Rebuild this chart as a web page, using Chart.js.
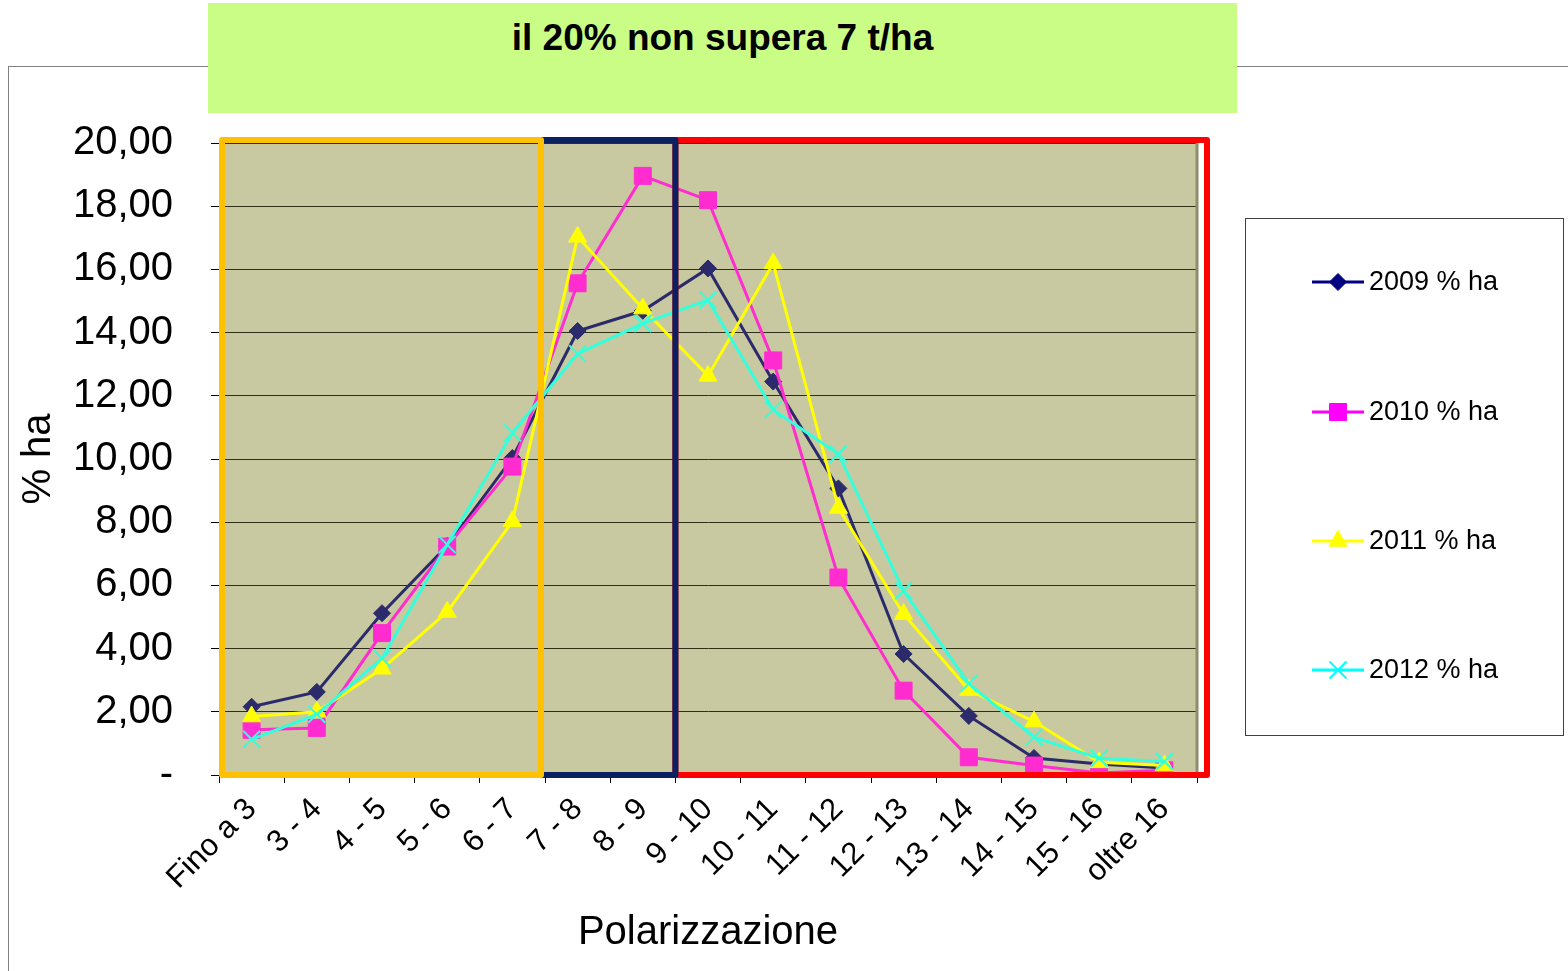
<!DOCTYPE html>
<html><head><meta charset="utf-8">
<script src="https://cdn.jsdelivr.net/npm/chart.js@4.4.0/dist/chart.umd.min.js"></script>
<style>
html,body{margin:0;padding:0;background:#fff;width:1568px;height:971px;overflow:hidden;}
#frame{position:absolute;left:8px;top:66px;width:1600px;height:1000px;border-top:1px solid #808080;border-left:1px solid #808080;}
#wrap{position:absolute;left:0;top:0;width:1568px;height:971px;}
#title{position:absolute;left:208px;top:3px;width:1029px;height:110px;background:#CAFD86;font:bold 37px "Liberation Sans",Arial,sans-serif;text-align:center;color:#000;}
#title span{position:absolute;left:0;right:0;top:14px;line-height:42px;}
</style></head><body>
<div id="frame"></div>
<div id="wrap"><canvas id="c" width="1568" height="971"></canvas></div>
<div id="title"><span>il 20% non supera 7 t/ha</span></div>
<script>
const categories = ['Fino a 3','3 - 4','4 - 5','5 - 6','6 - 7','7 - 8','8 - 9','9 - 10','10 - 11','11 - 12','12 - 13','13 - 14','14 - 15','15 - 16','oltre 16'];
const seriesNames = ['2009 % ha','2010 % ha','2011 % ha','2012 % ha'];
const s2009 = [2.16, 2.63, 5.12, 7.25, 10.03, 14.05, 14.69, 16.03, 12.45, 9.07, 3.83, 1.87, 0.54, 0.35, 0.22];
const s2010 = [1.43, 1.49, 4.49, 7.23, 9.76, 15.56, 18.96, 18.19, 13.12, 6.25, 2.67, 0.56, 0.30, 0.06, 0.15];
const s2011 = [1.85, 2.00, 3.36, 5.16, 8.03, 17.03, 14.76, 12.63, 16.19, 8.45, 5.09, 2.69, 1.69, 0.40, 0.30];
const s2012 = [1.13, 1.92, 3.69, 7.29, 10.83, 13.33, 14.29, 15.03, 11.56, 10.16, 5.83, 2.89, 1.20, 0.53, 0.43];
const yTicks = [0, 2, 4, 6, 8, 10, 12, 14, 16, 18, 20];
// zone boundaries (category index where zone ends)
const zoneEnds = [5, 7, 15];

const FONT = '"Liberation Sans", Arial, sans-serif';
const lineColors = ['#2B2A6B', '#FF2CD0', '#FFFF00', '#33FFDD'];
const legendColors = ['#000080', '#FF00FF', '#FFFF00', '#00FFFF'];
const pStyles = ['rectRot', 'rect', 'triangle', 'crossRot'];
const pRadius = [8.5, 12, 10.5, 12];
const seriesData = [s2009, s2010, s2011, s2012];

const datasets = seriesData.map((d, i) => ({
  label: seriesNames[i],
  data: d,
  borderColor: lineColors[i],
  backgroundColor: lineColors[i],
  pointBackgroundColor: lineColors[i],
  pointBorderColor: lineColors[i],
  borderWidth: 3,
  pointStyle: pStyles[i],
  pointRadius: pRadius[i],
  pointBorderWidth: i === 3 ? 2 : 1,
  tension: 0,
  order: 4 - i
}));

const bgPlugin = {
  id: 'bg',
  beforeDraw(chart) {
    const {ctx, chartArea: a} = chart;
    ctx.save();
    ctx.fillStyle = '#C9C9A1';
    ctx.fillRect(a.left, a.top, a.right - a.left, a.bottom - a.top);
    ctx.restore();
  },
  afterDatasetsDraw(chart) {
    const {ctx, chartArea: a} = chart;
    const xs = chart.scales.x;
    const bound = i => i <= 0 ? a.left : (i >= categories.length ? a.right : (xs.getPixelForValue(i - 1) + xs.getPixelForValue(i)) / 2);
    ctx.save();
    ctx.strokeStyle = '#8E8E6A';
    ctx.lineWidth = 3;
    ctx.beginPath(); ctx.moveTo(a.right, a.top); ctx.lineTo(a.right, a.bottom); ctx.stroke();
    ctx.lineWidth = 6;
    ctx.lineJoin = 'round';
    const top = a.top - 3, bot = a.bottom;
    const x0 = a.left + 3, x1 = bound(zoneEnds[0]) - 4, x2 = bound(zoneEnds[1]), x3 = a.right + 10;
    ctx.strokeStyle = '#FF0000';
    ctx.strokeRect(x2, top, x3 - x2, bot - top);
    ctx.strokeStyle = '#0A2060';
    ctx.strokeRect(x1, top, x2 - x1, bot - top);
    ctx.strokeStyle = '#FFC000';
    ctx.strokeRect(x0, top, x1 - x0, bot - top);
    ctx.restore();
  },
  afterDraw(chart) {
    const ctx = chart.ctx;
    ctx.save();
    ctx.strokeStyle = '#404040';
    ctx.lineWidth = 1;
    ctx.strokeRect(1245.5, 218.5, 318, 517);
    const ys = [282, 412, 541, 670];
    chart.data.datasets.forEach((ds, i) => {
      const y = ys[i];
      ctx.strokeStyle = legendColors[i];
      ctx.lineWidth = 3;
      ctx.beginPath(); ctx.moveTo(1312, y); ctx.lineTo(1364, y); ctx.stroke();
      ctx.fillStyle = legendColors[i];
      ctx.lineWidth = i === 3 ? 2 : 1;
      Chart.helpers.drawPoint(ctx, {pointStyle: pStyles[i], radius: pRadius[i], rotation: 0, borderWidth: ctx.lineWidth}, 1338, y);
      ctx.fillStyle = '#000';
      ctx.font = '27px ' + FONT;
      ctx.textBaseline = 'middle';
      ctx.textAlign = 'left';
      ctx.fillText(ds.label, 1369, y + 1);
    });
    ctx.restore();
  }
};

new Chart(document.getElementById('c'), {
  type: 'line',
  data: { labels: categories, datasets },
  options: {
    responsive: false,
    animation: false,
    layout: { padding: { left: 0, top: 143, right: 371, bottom: 0 } },
    plugins: { legend: { display: false }, tooltip: { enabled: false } },
    scales: {
      x: {
        offset: true,
        grid: { display: true, drawOnChartArea: false, drawTicks: true, tickLength: 8, tickColor: '#000', offset: true },
        border: { display: true, color: '#000', width: 1 },
        ticks: { font: { family: FONT, size: 31 }, color: '#000', minRotation: 45, maxRotation: 45, padding: 8, autoSkip: false },
        title: { display: true, text: 'Polarizzazione', font: { family: FONT, size: 40 }, color: '#000', padding: { top: 0, bottom: 14 } },
        afterFit(s) { s.height = 196; }
      },
      y: {
        min: 0, max: 20,
        afterBuildTicks(s) { s.ticks = yTicks.map(v => ({ value: v })); },
        grid: { color: '#2F2F18', lineWidth: 1, drawTicks: true, tickLength: 8, tickColor: '#000' },
        border: { display: true, color: '#000', width: 1 },
        ticks: {
          font: { family: FONT, size: 40 }, color: '#000', padding: 38,
          callback: v => v === 0 ? '-' : v.toFixed(2).replace('.', ',')
        },
        title: { display: true, text: '% ha', font: { family: FONT, size: 40 }, color: '#000', padding: { top: 15, bottom: 0 } },
        afterFit(s) { s.width = 219; }
      }
    }
  },
  plugins: [bgPlugin]
});
</script>
</body></html>
